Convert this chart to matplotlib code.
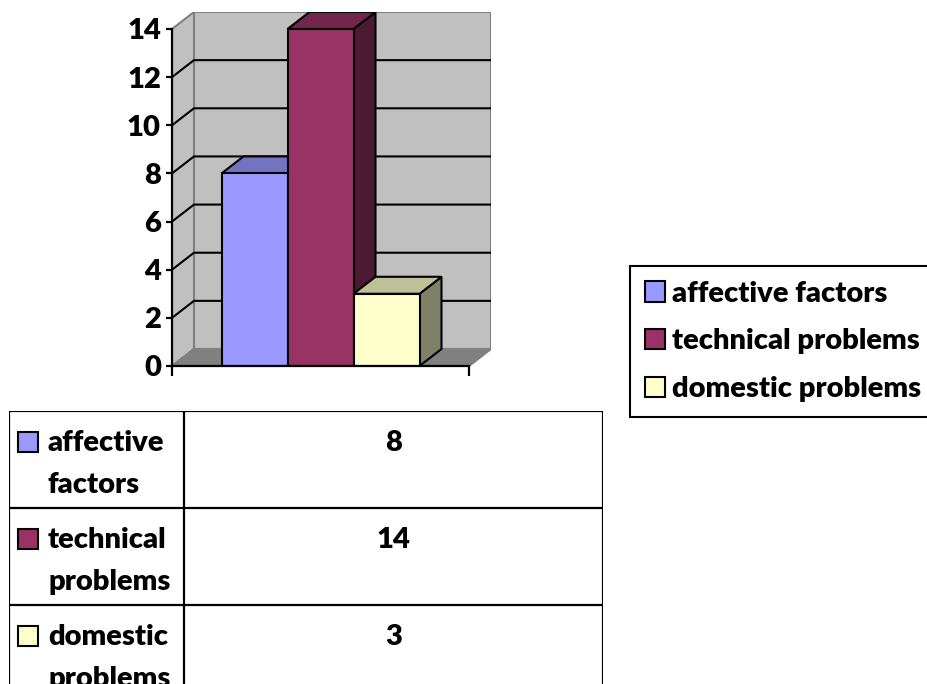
import matplotlib
matplotlib.use('Agg')
import matplotlib.pyplot as plt
from matplotlib.patches import Polygon, Rectangle, Patch

plt.rcParams['font.family'] = ['Lato', 'DejaVu Sans']
plt.rcParams['font.weight'] = 'bold'

# Data
categories = ['affective factors', 'technical problems', 'domestic problems']
values = [8, 14, 3]
yticks = [0, 2, 4, 6, 8, 10, 12, 14]

# Face colours of each column: front, top, side
front_colors = ['#9999FF', '#993366', '#FFFFCC']
top_colors = ['#7373BF', '#73264D', '#BFBF99']
side_colors = ['#4D4D80', '#4D1A33', '#808066']

W, H = 927, 684
FS = 21
WEIGHT = 'heavy'
fig = plt.figure(figsize=(W / 100, H / 100), dpi=100)

# ---- 3D column chart ----
YMAX = 14
XSPAN = 4.5          # width of the front plane, in bar widths
GAP = 0.75           # space before the first column
DX, DY = 0.333, 0.706  # depth offset (x in bar widths, y in value units)

ax = fig.add_axes([172 / W, (H - 366) / H, 319 / W, 354 / H])
ax.set_xlim(0, XSPAN + DX)
ax.set_ylim(0, YMAX + DY)

wall_kw = dict(fc='#C0C0C0', ec='#808080', lw=1.5, zorder=1)
# back wall
ax.add_patch(Rectangle((DX, DY), XSPAN, YMAX, **wall_kw))
# side wall
ax.add_patch(Polygon([(0, 0), (DX, DY), (DX, YMAX + DY), (0, YMAX)], **wall_kw))
# floor
ax.add_patch(Polygon([(0, 0), (XSPAN, 0), (XSPAN + DX, DY), (DX, DY)],
                     fc='#808080', ec='#808080', lw=1.5, zorder=1))

# gridlines on the walls
for v in yticks[1:-1]:
    ax.plot([0, DX, XSPAN + DX], [v, v + DY, v + DY], color='black', lw=1.5, zorder=2)

# columns, front faces from ax.bar, top and side faces as parallelograms
xs = [GAP + i for i in range(len(values))]
bars = ax.bar(xs, values, width=1, align='edge', color=front_colors,
              edgecolor='black', linewidth=1.5, zorder=3)
for i, (x, v) in enumerate(zip(xs, values)):
    top = Polygon([(x, v), (x + 1, v), (x + 1 + DX, v + DY), (x + DX, v + DY)],
                  fc=top_colors[i], ec='black', lw=1.5, zorder=3 + i * 0.1)
    side = Polygon([(x + 1, 0), (x + 1 + DX, DY), (x + 1 + DX, v + DY), (x + 1, v)],
                   fc=side_colors[i], ec='black', lw=1.5, zorder=3 + i * 0.1)
    bars[i].set_zorder(3 + i * 0.1 + 0.05)
    ax.add_patch(side)
    ax.add_patch(top)

for s in ['top', 'right']:
    ax.spines[s].set_visible(False)
ax.spines['left'].set_bounds(0, YMAX)
ax.spines['bottom'].set_bounds(0, XSPAN)
for s in ['left', 'bottom']:
    ax.spines[s].set_linewidth(1.6)
    ax.spines[s].set_zorder(5)
ax.set_yticks(yticks)
ax.set_yticklabels([str(t) for t in yticks], fontsize=FS, fontweight=WEIGHT)
ax.tick_params(axis='y', length=4, width=1.6, pad=4)
ax.set_xticks([0, XSPAN])
ax.set_xticklabels([])
ax.tick_params(axis='x', length=7, width=1.6)
ax.set_facecolor('none')

# ---- legend ----
handles = [Patch(fc=c, ec='black', lw=1.5) for c in front_colors]
fig.legend(handles, categories, loc='upper left',
           bbox_to_anchor=(630 / W, 1 - 266 / H),
           prop={'weight': WEIGHT, 'size': FS},
           frameon=True, fancybox=False, framealpha=1, edgecolor='black',
           borderaxespad=0, borderpad=0.5, handlelength=0.7, handleheight=0.7,
           handletextpad=0.25, labelspacing=0.75)
fig.legends[0].get_frame().set_linewidth(1.5)

# ---- data table ----
ROW_H = 97
tab = fig.add_axes([9 / W, (H - 411 - 3 * ROW_H) / H, 594 / W, 3 * ROW_H / H])
tab.set_xlim(0, 594)
tab.set_ylim(3 * ROW_H, 0)
tab.axis('off')
COL = 175
line_kw = dict(color='black', lw=1.6, solid_capstyle='projecting')
tab.plot([0, 594, 594, 0, 0], [0, 0, 3 * ROW_H, 3 * ROW_H, 0], **line_kw)
tab.plot([COL, COL], [0, 3 * ROW_H], **line_kw)
for r in range(1, 3):
    tab.plot([0, 594], [r * ROW_H, r * ROW_H], **line_kw)

for r, (cat, val) in enumerate(zip(categories, values)):
    y0 = r * ROW_H
    tab.add_patch(Rectangle((9, y0 + 21), 20, 20, fc=front_colors[r], ec='black', lw=1.5))
    tab.text(39, y0 + 19, '\n'.join(cat.split(' ')), fontsize=FS, fontweight=WEIGHT,
             ha='left', va='top', linespacing=1.75)
    tab.text((COL + 594) / 2, y0 + 19, str(val), fontsize=FS, fontweight=WEIGHT,
             ha='center', va='top')

fig.savefig('out.png', dpi=100)
